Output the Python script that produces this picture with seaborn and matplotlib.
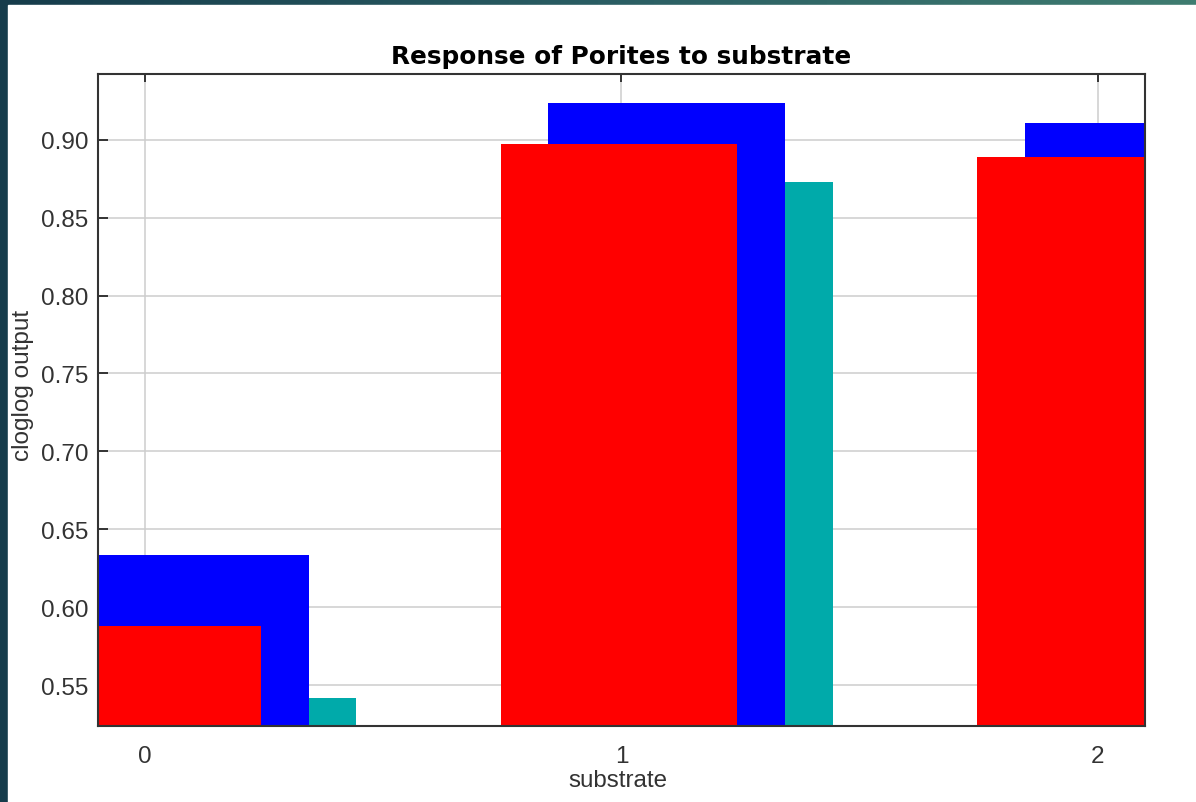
import numpy as np
import pandas as pd
import matplotlib
matplotlib.use("Agg")
import matplotlib.pyplot as plt
from matplotlib.patches import Rectangle
from matplotlib.colors import LinearSegmentedColormap
import seaborn as sns

# Categorical response of Porites to substrate class
categories = [0, 1, 2]
mean_response = [0.5876, 0.8974, 0.8889]       # red
upper_response = [0.6335, 0.9238, 0.9107]      # blue (mean + sd)
lower_response = [0.5415, 0.8730, 0.8660]      # teal (mean - sd)
y_ticks = [0.55, 0.60, 0.65, 0.70, 0.75, 0.80, 0.85, 0.90]

sns.set_theme(style="white")
plt.rcParams["font.family"] = ["Liberation Sans", "DejaVu Sans"]

W, H = 1196, 803
fig = plt.figure(figsize=(W / 100, H / 100), dpi=100)

# Teal gradient frame behind the white panel
bg = fig.add_axes([0, 0, 1, 1], zorder=-10)
grad = np.linspace(0, 1, 256).reshape(1, -1)
cmap = LinearSegmentedColormap.from_list("frame", ["#163c4b", "#2a5d63", "#3f7c70"])
bg.imshow(grad, aspect="auto", cmap=cmap, extent=[0, 1, 0, 1])
bg.add_patch(Rectangle((8 / W, 0), 1, 1 - 6 / H, color="white", transform=bg.transAxes))
bg.set_axis_off()

ax = fig.add_axes([98 / W, 1 - 727 / H, (1145 - 98) / W, (727 - 75) / H])

# Each band is drawn slightly offset so the three overlap: teal, blue, red on top
series = [
    (lower_response, 0.195, "#00aaaa"),
    (upper_response, 0.095, "#0000ff"),
    (mean_response, -0.005, "#ff0000"),
]
for vals, offset, col in series:
    df = pd.DataFrame({"substrate": np.array(categories, dtype=float) + offset,
                       "response": vals})
    sns.barplot(data=df, x="substrate", y="response", native_scale=True,
                width=0.497, color=col, saturation=1, errorbar=None,
                linewidth=0, edgecolor="none", ax=ax, zorder=2)

ax.set_xlim(-0.099, 2.099)
ax.set_ylim(0.5237, 0.9422)
ax.set_xticks(categories)
ax.set_xticklabels([str(c) for c in categories])
ax.set_yticks(y_ticks)
ax.set_yticklabels([f"{v:.2f}" for v in y_ticks])

ax.grid(True, color="#cdcdcd", linewidth=1.1, zorder=0)
ax.set_axisbelow(True)
for s in ax.spines.values():
    s.set_color("#333333")
    s.set_linewidth(1.5)
    s.set_visible(True)

ax.tick_params(axis="y", direction="in", left=True, right=False, length=7,
               width=1.4, color="#333333", labelsize=17.5, labelcolor="#333333", pad=7)
ax.tick_params(axis="x", direction="in", top=True, bottom=False, length=6,
               width=1.4, color="#333333", labelsize=17.5, labelcolor="#333333", pad=14)

ax.set_xlabel("substrate", fontsize=17.4, color="#333333")
ax.xaxis.set_label_coords(0.497, -0.0655)
ax.set_ylabel("cloglog output", fontsize=17.5, color="#333333")
ax.yaxis.set_label_coords(-0.061, 0.5245)
ax.set_title("Response of Porites to substrate", fontsize=17.85, fontweight="bold",
             family=["DejaVu Sans"], color="black", pad=8)

fig.savefig("out.png", dpi=100)
